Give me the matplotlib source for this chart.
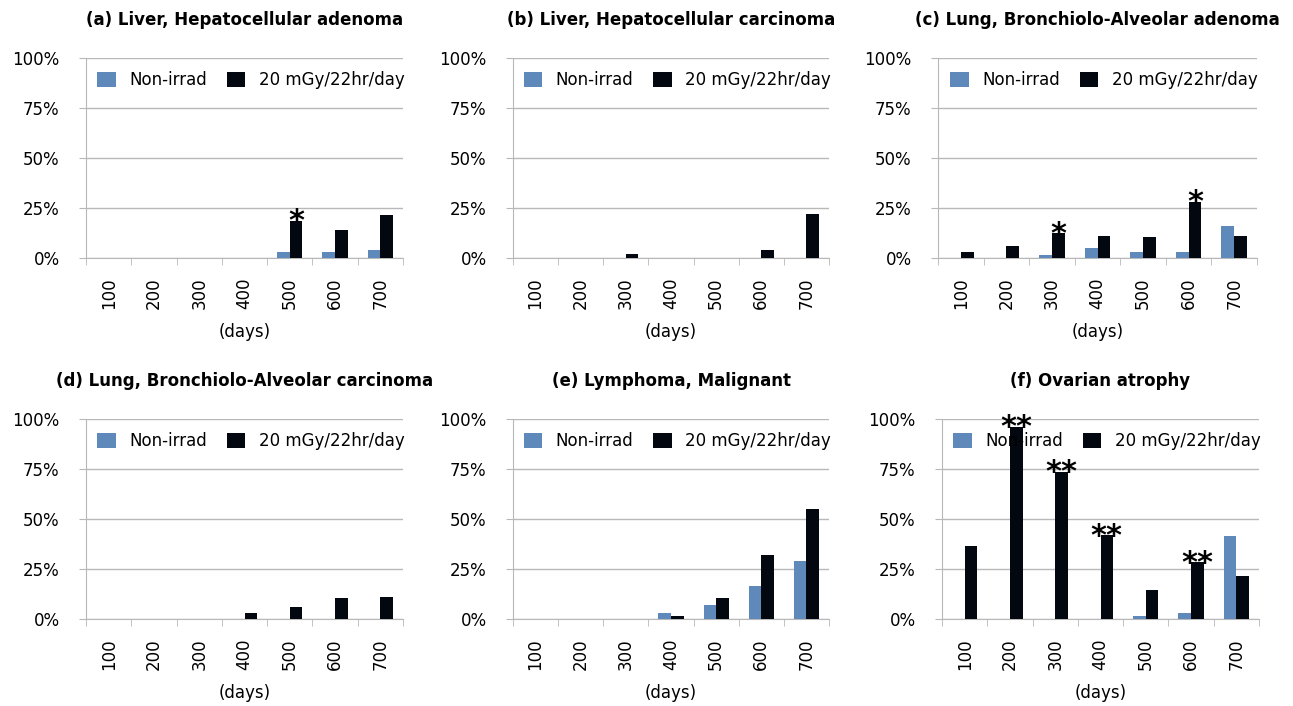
import numpy as np
import matplotlib
matplotlib.use("Agg")
import matplotlib.pyplot as plt
from matplotlib.ticker import FixedLocator, PercentFormatter

days = ["100", "200", "300", "400", "500", "600", "700"]
series_names = ["Non-irrad", "20 mGy/22hr/day"]

titles = [
    "(a) Liver, Hepatocellular adenoma",
    "(b) Liver, Hepatocellular carcinoma",
    "(c) Lung, Bronchiolo-Alveolar adenoma",
    "(d) Lung, Bronchiolo-Alveolar carcinoma",
    "(e) Lymphoma, Malignant",
    "(f) Ovarian atrophy",
]

# incidence (%)
a_non = [0, 0, 0, 0, 3.0, 3.0, 3.8]
a_irr = [0, 0, 0, 0, 18.7, 13.8, 21.5]
b_non = [0, 0, 0, 0, 0, 0, 0]
b_irr = [0, 0, 1.8, 0, 0, 3.8, 22.2]
c_non = [0, 0, 1.3, 5.0, 3.0, 3.0, 16.2]
c_irr = [3.0, 6.0, 12.5, 10.8, 10.3, 28.2, 10.8]
d_non = [0, 0, 0, 0, 0, 0, 0]
d_irr = [0, 0, 0, 3.2, 6.2, 10.3, 10.8]
e_non = [0, 0, 0, 3.2, 6.8, 16.3, 28.8]
e_irr = [0, 0, 0, 1.3, 10.3, 31.8, 55.0]
f_non = [0, 0, 0, 0, 1.3, 3.2, 41.5]
f_irr = [36.7, 96.2, 73.7, 42.0, 14.5, 28.3, 21.7]

# significance marks over the irradiated bars
a_sig = ["", "", "", "", "*", "", ""]
b_sig = ["", "", "", "", "", "", ""]
c_sig = ["", "", "*", "", "", "*", ""]
d_sig = ["", "", "", "", "", "", ""]
e_sig = ["", "", "", "", "", "", ""]
f_sig = ["", "**", "**", "**", "", "**", ""]

non_list = [a_non, b_non, c_non, d_non, e_non, f_non]
irr_list = [a_irr, b_irr, c_irr, d_irr, e_irr, f_irr]
sig_list = [a_sig, b_sig, c_sig, d_sig, e_sig, f_sig]

blue = "#5f89bb"
black = "#03070f"
grid_c = "#b8b8b8"

plt.rcParams["font.family"] = "DejaVu Sans"

W, H = 1293, 706
fig = plt.figure(figsize=(W / 100, H / 100), dpi=100)

# axes boxes in pixels: left, right, top, bottom
boxes = [
    (86, 403, 58, 258), (513, 829, 58, 258), (938, 1257, 58, 258),
    (86, 403, 419, 619), (513, 829, 419, 619), (942, 1259, 419, 619),
]

x = np.arange(len(days))
w = 0.28

for k in range(6):
    l, r, t, b = boxes[k]
    ax = fig.add_axes([l / W, 1 - b / H, (r - l) / W, (b - t) / H])
    ax.bar(x - w / 2, non_list[k], w, color=blue, label=series_names[0], zorder=3)
    bars = ax.bar(x + w / 2, irr_list[k], w, color=black, label=series_names[1], zorder=3)
    for rect, s in zip(bars, sig_list[k]):
        if s:
            ax.annotate(s, (rect.get_x() + rect.get_width() / 2, rect.get_height()),
                        xytext=(0, -7), textcoords="offset points",
                        ha="center", va="baseline", fontsize=22, fontweight="bold",
                        zorder=5)
    ax.set_xlim(-0.5, len(days) - 0.5)
    ax.set_ylim(0, 100)
    ax.set_yticks([0, 25, 50, 75, 100])
    ax.yaxis.set_major_formatter(PercentFormatter(decimals=0))
    ax.grid(axis="y", color=grid_c, linewidth=1, zorder=0)
    ax.set_xticks(x)
    ax.set_xticklabels(days, rotation=90)
    ax.xaxis.set_minor_locator(FixedLocator(np.arange(-0.5, len(days), 1.0)))
    ax.tick_params(axis="x", which="major", length=0, pad=14, labelsize=12)
    ax.tick_params(axis="x", which="minor", length=5, color=grid_c)
    ax.tick_params(axis="y", length=5, color=grid_c, pad=14, labelsize=12)
    for side in ["top", "right"]:
        ax.spines[side].set_visible(False)
    for side in ["left", "bottom"]:
        ax.spines[side].set_color(grid_c)
    ax.set_title(titles[k], fontsize=12, fontweight="bold", pad=24)
    ax.set_xlabel("(days)", fontsize=12, labelpad=10)
    ax.legend(loc="upper center", bbox_to_anchor=(0.52, 1.01), ncol=2, frameon=False,
              fontsize=12, handlelength=1.1, handleheight=1.0, columnspacing=1.2,
              handletextpad=0.8)

fig.savefig("out.png", dpi=100)
